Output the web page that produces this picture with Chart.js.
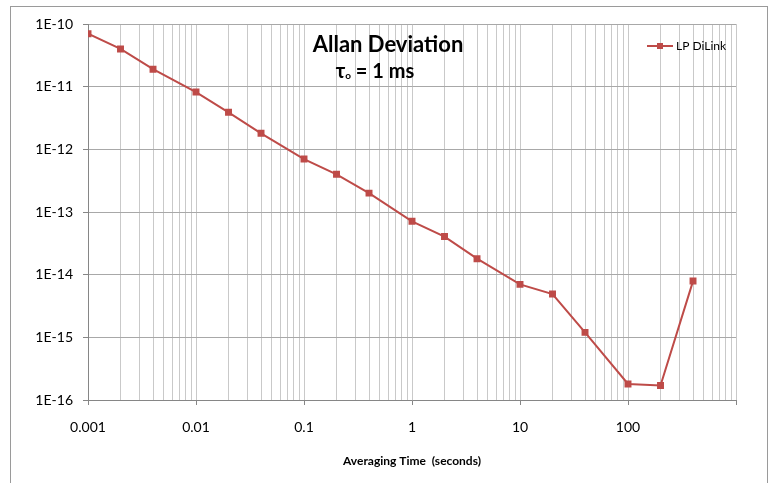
<!DOCTYPE html>
<html>
<head>
<meta charset="utf-8">
<script src="https://cdn.jsdelivr.net/npm/chart.js@4"></script>
<style>
  html, body { margin: 0; padding: 0; background: #fff; }
  #wrap { width: 770px; height: 483px; }
</style>
</head>
<body>
<div id="wrap"><canvas id="adevChart" width="770" height="483"></canvas></div>
<script>
// averaging time (s) and Allan deviation
const tauValues = [0.001, 0.002, 0.004, 0.01, 0.02, 0.04, 0.1, 0.2, 0.4, 1, 2, 4, 10, 20, 40, 100, 200, 400];
const adevValues = [7.0e-11, 4.0e-11, 1.9e-11, 8.2e-12, 3.9e-12, 1.8e-12, 7.0e-13, 4.0e-13, 2.0e-13,
                    7.1e-14, 4.05e-14, 1.8e-14, 7.0e-15, 4.9e-15, 1.2e-15, 1.8e-16, 1.7e-16, 7.9e-15];
const xDecades = [0.001, 0.01, 0.1, 1, 10, 100, 1000];
const xLabelled = [0.001, 0.01, 0.1, 1, 10, 100];
const yDecades = [1e-16, 1e-15, 1e-14, 1e-13, 1e-12, 1e-11, 1e-10];
const seriesName = "LP DiLink";
const titleText = "Allan Deviation";
const xTitle = "Averaging Time  (seconds)";

const lineColor = "#be4b48";
const FONT = "Lato, 'Open Sans', sans-serif";

function isDecade(v) {
    const l = Math.log10(v);
    return Math.abs(l - Math.round(l)) < 1e-9;
}

// minor grid positions 1..9 per decade
function minorTicks() {
    const out = [];
    for (let i = 0; i < xDecades.length - 1; i++) {
        for (let m = 1; m <= 9; m++) out.push(Number((m * xDecades[i]).toPrecision(3)));
    }
    out.push(xDecades[xDecades.length - 1]);
    return out;
}

// background frame, title block and legend
const decorPlugin = {
    id: "decor",
    beforeDraw(chart) {
        const ctx = chart.ctx;
        ctx.save();
        ctx.fillStyle = "#fff";
        ctx.fillRect(0, 0, chart.width, chart.height);
        ctx.strokeStyle = "#9a9a9a";
        ctx.lineWidth = 1;
        ctx.strokeRect(10.5, 6.5, 757, 520);
        ctx.restore();
    },
    afterDraw(chart) {
        const ctx = chart.ctx;
        ctx.save();
        ctx.fillStyle = "#000";
        ctx.textBaseline = "middle";
        ctx.textAlign = "center";
        ctx.font = "bold 22px " + FONT;
        ctx.fillText(titleText, 388, 45);

        // τo = 1 ms
        ctx.textAlign = "left";
        ctx.font = "bold 20px " + FONT;
        const tauW = ctx.measureText("τ").width;
        const rest = " = 1 ms";
        ctx.font = "bold 10px " + FONT;
        const oW = ctx.measureText("o").width;
        ctx.font = "bold 20px " + FONT;
        const restW = ctx.measureText(rest).width;
        let x0 = 375 - (tauW + oW + restW) / 2;
        ctx.fillText("τ", x0, 72);
        ctx.font = "bold 10px " + FONT;
        ctx.fillText("o", x0 + tauW, 76);
        ctx.font = "bold 20px " + FONT;
        ctx.fillText(rest, x0 + tauW + oW, 72);

        // legend
        ctx.strokeStyle = lineColor;
        ctx.lineWidth = 2;
        ctx.beginPath();
        ctx.moveTo(647, 46);
        ctx.lineTo(673, 46);
        ctx.stroke();
        ctx.fillStyle = lineColor;
        ctx.fillRect(657, 43, 6, 6);
        ctx.fillStyle = "#000";
        ctx.font = "12px " + FONT;
        ctx.fillText(seriesName, 676, 46);
        ctx.restore();
    }
};

const chart = new Chart(document.getElementById("adevChart"), {
    type: "line",
    data: {
        datasets: [{
            label: seriesName,
            data: tauValues.map((t, i) => ({ x: t, y: adevValues[i] })),
            borderColor: lineColor,
            backgroundColor: lineColor,
            borderWidth: 2,
            pointStyle: "rect",
            pointRadius: 3.5,
            pointHoverRadius: 3.5,
            tension: 0
        }]
    },
    options: {
        responsive: false,
        animation: false,
        events: [],
        layout: { padding: { left: 10, right: 34, top: 24, bottom: 0 } },
        plugins: {
            legend: { display: false },
            tooltip: { enabled: false }
        },
        scales: {
            x: {
                type: "logarithmic",
                min: 0.001,
                max: 1000,
                afterBuildTicks: (scale) => { scale.ticks = minorTicks().map(v => ({ value: v })); },
                afterFit: (scale) => { scale.height = 83; },
                ticks: {
                    autoSkip: false,
                    maxRotation: 0,
                    padding: 14,
                    color: "#000",
                    font: { family: FONT, size: 14 },
                    callback: (v) => xLabelled.includes(v) ? String(v) : ""
                },
                grid: {
                    color: "#c9c9c9",
                    tickLength: 5,
                    tickColor: (c) => (c.tick && isDecade(c.tick.value)) ? "#868686" : "rgba(0,0,0,0)"
                },
                border: { color: "#868686", width: 1 },
                title: {
                    display: true,
                    text: xTitle,
                    color: "#000",
                    font: { family: FONT, size: 12, weight: "bold" },
                    padding: { top: 0, bottom: 15 }
                }
            },
            y: {
                type: "logarithmic",
                min: 1e-16,
                max: 1e-10,
                afterBuildTicks: (scale) => { scale.ticks = yDecades.map(v => ({ value: v })); },
                afterFit: (scale) => { scale.width = 78; },
                ticks: {
                    autoSkip: false,
                    padding: 10,
                    color: "#000",
                    font: { family: FONT, size: 14 },
                    callback: (v) => "1E" + Math.round(Math.log10(v))
                },
                grid: {
                    color: "#a8a8a8",
                    tickLength: 5,
                    tickColor: "#868686"
                },
                border: { color: "#868686", width: 1 }
            }
        }
    },
    plugins: [decorPlugin]
});
</script>
</body>
</html>
